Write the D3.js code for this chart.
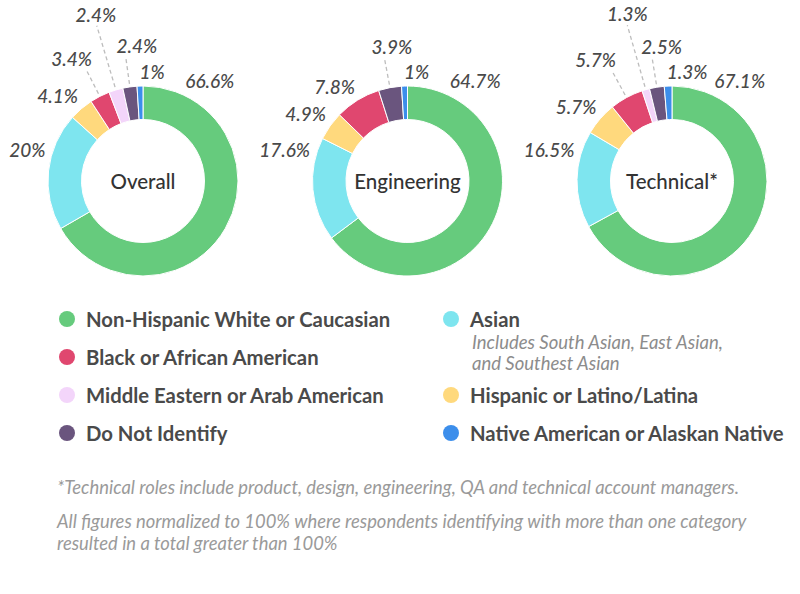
<!DOCTYPE html>
<html>
<head>
<meta charset="utf-8">
<script src="https://cdn.jsdelivr.net/npm/d3@7"></script>
<style>
  html, body { margin: 0; padding: 0; background: #fff; }
  svg { display: block; font-family: Lato, "Open Sans", sans-serif; }
</style>
</head>
<body>
<svg id="chart" width="800" height="594"></svg>
<script>
// ---------------- data ----------------
const categories = [
  "Non-Hispanic White or Caucasian",
  "Asian",
  "Hispanic or Latino/Latina",
  "Black or African American",
  "Middle Eastern or Arab American",
  "Do Not Identify",
  "Native American or Alaskan Native"
];
const chartTitles = ["Overall", "Engineering", "Technical*"];
const overallValues     = [66.6, 20,   4.1, 3.4, 2.4, 2.4, 1];
const engineeringValues = [64.7, 17.6, 4.9, 7.8, 0,   3.9, 1];
const technicalValues   = [67.1, 16.5, 5.7, 5.7, 1.3, 2.5, 1.3];
const seriesValues = [overallValues, engineeringValues, technicalValues];
const categoryColors = ["#66CB7D", "#7EE5EF", "#FFD97D", "#E0476F", "#F3D5FA", "#6A557E", "#3C8EEB"];
// legend layout: [left column], [right column] (category indexes)
const legendLeft = [0, 3, 4, 5];
const legendRight = [1, 2, 6];
const asianNote = ["Includes South Asian, East Asian,", "and Southest Asian"];
const footnoteTechnical = ["*Technical roles include product, design, engineering, QA and technical account managers."];
const footnoteNormalized = [
  "All figures normalized to 100% where respondents identifying with more than one category",
  "resulted in a total greater than 100%"
];
// label stagger tier per slice (0 = next to ring, 1/2 = pushed out with leader line)
const labelTiers = [
  [0, 0, 0, 1, 2, 1, 0],
  [0, 0, 0, 0, 0, 1, 0],
  [0, 0, 0, 1, 2, 1, 0]
];

// ---------------- layout ----------------
const svg = d3.select("#chart");
const W = 800, H = 594;
svg.append("rect").attr("width", W).attr("height", H).attr("fill", "#fff");

const centerX = d3.scalePoint().domain(chartTitles).range([143, 672]);
const centerY = 181;
const outerR = 95, innerR = 61.5;
const tierRadius = [100, 125, 162];
const textColor = "#4a4a4a";

const pie = d3.pie().sort(null).value(d => d.v).startAngle(0).endAngle(2 * Math.PI);
const arc = d3.arc().innerRadius(innerR).outerRadius(outerR);
const color = d3.scaleOrdinal().domain(categories).range(categoryColors);

const deg = r => r * 180 / Math.PI;
const rad = d => d * Math.PI / 180;

chartTitles.forEach((title, ci) => {
  const data = categories.map((c, i) => ({ c, i, v: seriesValues[ci][i] }));
  const arcs = pie(data);
  const g = svg.append("g").attr("transform", `translate(${centerX(title)},${centerY})`);

  g.selectAll("path.slice")
    .data(arcs.filter(a => a.data.v > 0))
    .join("path")
    .attr("class", "slice")
    .attr("d", arc)
    .attr("fill", d => color(d.data.c))
    .attr("stroke", "#fff")
    .attr("stroke-width", 1);

  g.append("text")
    .attr("text-anchor", "middle")
    .attr("dominant-baseline", "central")
    .attr("font-size", 20.5)
    .attr("font-weight", 500)
    .attr("fill", "#333")
    .text(title);

  const maxV = d3.max(data, d => d.v);
  arcs.filter(a => a.data.v > 0).forEach(a => {
    const tier = labelTiers[ci][a.data.i];
    let ang = deg((a.startAngle + a.endAngle) / 2);
    if (a.data.v === maxV) ang = 25;               // main slice label sits at upper right
    else if (ang > 180 && ang < 283) ang = 283;     // keep left labels in upper half
    const rho = tierRadius[tier];
    const s = Math.sin(rad(ang)), c = Math.cos(rad(ang));
    const px = rho * s, py = -rho * c;
    if (tier > 0) {
      g.append("line")
        .attr("x1", (outerR + 3) * s).attr("y1", -(outerR + 3) * c)
        .attr("x2", px).attr("y2", py)
        .attr("stroke", "#bdbdbd")
        .attr("stroke-width", 1.3)
        .attr("stroke-dasharray", "4,3");
    }
    const t = g.append("text")
      .attr("font-size", 19)
      .attr("font-style", "italic")
      .attr("font-weight", 500)
      .attr("fill", textColor)
      .text(a.data.v + "%");
    const w = t.node().getComputedTextLength();
    const frac = Math.max(0, Math.min(1, -0.05 - 2.0 * s));
    t.attr("x", px - frac * w).attr("y", py - (tier > 0 ? 4 : 2));
  });
});

// ---------------- legend ----------------
const legendY = d3.scalePoint().domain([0, 1, 2, 3]).range([319, 433]);
function legendItem(x, y, ci) {
  svg.append("circle").attr("cx", x).attr("cy", y).attr("r", 8)
    .attr("fill", color(categories[ci]));
  svg.append("text").attr("x", x + 19).attr("y", y)
    .attr("dominant-baseline", "central")
    .attr("font-size", 20.3).attr("font-weight", 700).attr("fill", textColor)
    .text(categories[ci]);
}
legendLeft.forEach((ci, k) => legendItem(67, legendY(k), ci));
// right column: Asian (with note), Hispanic, Native
legendItem(451, legendY(0), legendRight[0]);
const note = svg.append("text")
  .attr("font-size", 18.5).attr("font-style", "italic").attr("fill", "#8c8c8c");
asianNote.forEach((line, k) => {
  note.append("tspan").attr("x", 472).attr("y", 349 + k * 21).text(line);
});
legendItem(451, legendY(2), legendRight[1]);
legendItem(451, legendY(3), legendRight[2]);

// ---------------- footnotes ----------------
function paragraph(lines, y0, lineH) {
  const t = svg.append("text")
    .attr("font-size", 18.4).attr("font-style", "italic").attr("font-weight", 400)
    .attr("fill", "#9a9a9a");
  lines.forEach((line, k) => {
    t.append("tspan").attr("x", 57).attr("y", y0 + k * lineH).text(line);
  });
}
paragraph(footnoteTechnical, 494, 22);
paragraph(footnoteNormalized, 528, 22);
</script>
</body>
</html>
